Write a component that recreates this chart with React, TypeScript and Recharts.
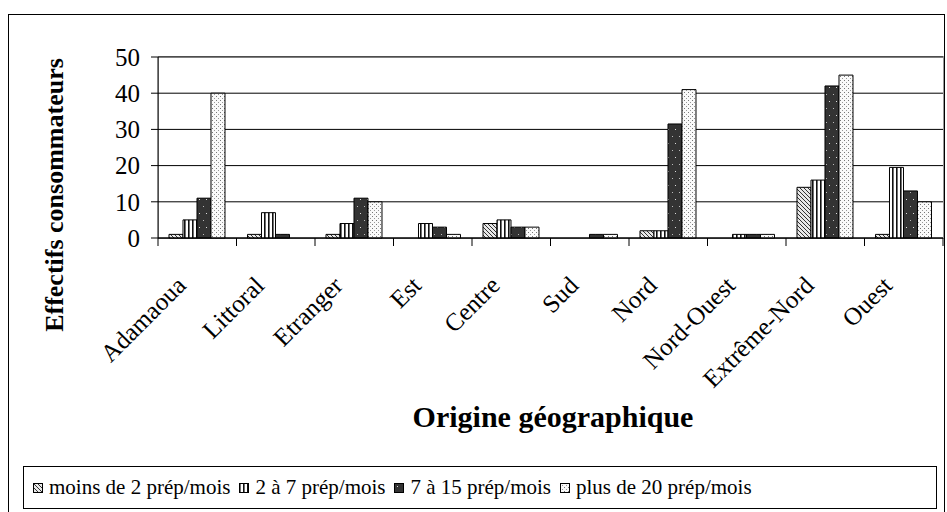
import React from 'react';
import { BarChart, Bar, XAxis, YAxis, CartesianGrid, Legend } from 'recharts';

// Origine géographique des consommateurs, par fréquence de préparation
const regions = [
  'Adamaoua',
  'Littoral',
  'Etranger',
  'Est',
  'Centre',
  'Sud',
  'Nord',
  'Nord-Ouest',
  'Extrême-Nord',
  'Ouest',
];
const moinsDe2 = [1, 1, 1, 0, 4, 0, 2, 0, 14, 1];
const de2a7 = [5, 7, 4, 4, 5, 0, 2, 1, 16, 19.5];
const de7a15 = [11, 1, 11, 3, 3, 1, 31.5, 1, 42, 13];
const plusDe20 = [40, 0, 10, 1, 3, 1, 41, 1, 45, 10];
const yTicks = [0, 10, 20, 30, 40, 50];

const seriesInfo = [
  { key: 'moins2', name: 'moins de 2 prép/mois', fill: 'url(#patHatch)' },
  { key: 'de2a7', name: '2 à 7 prép/mois', fill: 'url(#patStripes)' },
  { key: 'de7a15', name: '7 à 15 prép/mois', fill: 'url(#patDark)' },
  { key: 'plus20', name: 'plus de 20 prép/mois', fill: 'url(#patDots)' },
];

const data = regions.map((region, i) => ({
  region,
  moins2: moinsDe2[i],
  de2a7: de2a7[i],
  de7a15: de7a15[i],
  plus20: plusDe20[i],
}));

const FONT = '"Liberation Serif", "Times New Roman", serif';
const BAND = 78.5; // width of one category on the x axis

function RegionTick(props: any) {
  const { x, y, payload, index } = props;
  const top = y - 8;
  const tx = x - 10;
  const ty = y + 41;
  return (
    <g>
      <line x1={x - BAND / 2} y1={top} x2={x - BAND / 2} y2={y} stroke="#000" />
      {index === regions.length - 1 && (
        <line x1={x + BAND / 2} y1={top} x2={x + BAND / 2} y2={y} stroke="#000" />
      )}
      <text
        x={tx}
        y={ty}
        textAnchor="end"
        transform={`rotate(-45 ${tx} ${ty})`}
        fontFamily={FONT}
        fontSize={25}
        fill="#000"
      >
        {payload.value}
      </text>
    </g>
  );
}

function LegendBox() {
  return (
    <div style={styles.legendBox}>
      {seriesInfo.map((s) => (
        <div key={s.key} style={styles.legendItem}>
          <svg width={10} height={10} style={{ marginRight: 6 }}>
            <rect x={0.5} y={0.5} width={9} height={9} fill={s.fill} stroke="#000" />
          </svg>
          <span>{s.name}</span>
        </div>
      ))}
    </div>
  );
}

export default function App() {
  return (
    <div style={styles.page}>
      <div style={styles.frame} />
      <div style={styles.plotBorder} />
      <BarChart
        width={947}
        height={512}
        data={data}
        margin={{ top: 57, right: 4, left: 98, bottom: 174 }}
        barCategoryGap="14%"
        barGap={0}
      >
        <defs>
          <pattern id="patHatch" patternUnits="userSpaceOnUse" width={4} height={4}>
            <rect width={4} height={4} fill="#e8e8e8" />
            <path d="M-1,-1 L5,5 M-1,3 L1,5 M3,-1 L5,1" stroke="#333" strokeWidth={1} />
          </pattern>
          <pattern id="patStripes" patternUnits="userSpaceOnUse" width={4} height={4}>
            <rect width={4} height={4} fill="#fff" />
            <rect x={0} width={1.6} height={4} fill="#111" />
          </pattern>
          <pattern id="patDark" patternUnits="userSpaceOnUse" width={7} height={14}>
            <rect width={7} height={14} fill="#333" />
            <rect x={3} y={3} width={1} height={1} fill="#ddd" />
            <rect x={0} y={10} width={1} height={1} fill="#bbb" />
          </pattern>
          <pattern id="patDots" patternUnits="userSpaceOnUse" width={4} height={4}>
            <rect width={4} height={4} fill="#fafafa" />
            <rect x={0} y={0} width={1} height={1} fill="#777" />
            <rect x={2} y={2} width={1} height={1} fill="#999" />
          </pattern>
        </defs>
        <CartesianGrid vertical={false} stroke="#000" />
        <XAxis
          dataKey="region"
          height={100}
          interval={0}
          tickLine={false}
          tickSize={8}
          tickMargin={0}
          axisLine={{ stroke: '#000' }}
          tick={<RegionTick />}
          label={{
            content: () => (
              <text
                x={553}
                y={427}
                textAnchor="middle"
                fontFamily={FONT}
                fontWeight="bold"
                fontSize={30}
                fill="#000"
              >
                Origine géographique
              </text>
            ),
          }}
        />
        <YAxis
          width={60}
          domain={[0, 50]}
          ticks={yTicks}
          interval={0}
          tickSize={7}
          tickMargin={11}
          axisLine={{ stroke: '#000' }}
          tickLine={{ stroke: '#000' }}
          tick={{ fontFamily: FONT, fontSize: 25, fill: '#000' }}
          label={{
            content: () => (
              <text
                x={63}
                y={195}
                textAnchor="middle"
                transform="rotate(-90 63 195)"
                fontFamily={FONT}
                fontWeight="bold"
                fontSize={26}
                fill="#000"
              >
                Effectifs consommateurs
              </text>
            ),
          }}
        />
        <Legend
          layout="horizontal"
          verticalAlign="middle"
          align="center"
          content={() => <LegendBox />}
          wrapperStyle={{ left: 23, top: 466, width: 914, height: 43 }}
        />
        {seriesInfo.map((s) => (
          <Bar
            key={s.key}
            dataKey={s.key}
            name={s.name}
            fill={s.fill}
            stroke="#000"
            strokeWidth={1}
            isAnimationActive={false}
          />
        ))}
      </BarChart>
    </div>
  );
}

const styles: Record<string, React.CSSProperties> = {
  page: {
    position: 'absolute',
    left: 0,
    top: 0,
    width: 947,
    height: 512,
    overflow: 'hidden',
    background: '#fff',
  },

  frame: {
    position: 'absolute',
    left: 8,
    top: 14,
    width: 937,
    height: 520,
    border: '1px solid #000',
    boxSizing: 'border-box',
  },

  plotBorder: {
    position: 'absolute',
    left: 158,
    top: 56,
    width: 786,
    height: 183,
    border: '1px solid #999',
    boxSizing: 'border-box',
  },

  legendBox: {
    boxSizing: 'border-box',
    width: 914,
    height: 43,
    border: '1px solid #000',
    display: 'flex',
    alignItems: 'center',
    paddingLeft: 9,
    fontFamily: FONT,
    fontSize: 21,
    color: '#000',
    whiteSpace: 'nowrap',
  },

  legendItem: {
    display: 'flex',
    alignItems: 'center',
    marginRight: 9,
  },
};
